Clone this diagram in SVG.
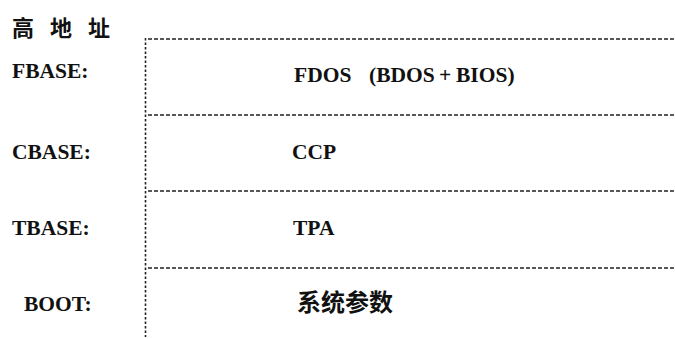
<svg xmlns="http://www.w3.org/2000/svg" width="675" height="339" viewBox="0 0 675 339">
<style>
  .lbl { font-family: "Liberation Serif", "Noto Sans CJK SC", serif; font-weight: bold; font-size: 21.5px; fill: #111; }
  .cjk { font-family: "Noto Sans CJK SC", sans-serif; font-weight: bold; fill: #111; }
  .hline { stroke: #222; stroke-width: 1.4; stroke-dasharray: 4 2; fill: none; }
  .vline { stroke: #222; stroke-width: 1.6; stroke-dasharray: 2.5 2; fill: none; }
</style>
<rect width="675" height="339" fill="#fff"/>
<g id="axis-labels">
  <text class="cjk" font-size="22" x="12 34 50 72 88" y="36">高 地 址</text>
  <text class="lbl" x="12" y="78">FBASE:</text>
  <text class="lbl" x="12" y="159">CBASE:</text>
  <text class="lbl" x="12" y="235">TBASE:</text>
  <text class="lbl" x="24" y="311">BOOT:</text>
</g>
<g id="connectors">
  <line class="vline" x1="145.5" y1="38" x2="145.5" y2="337"/>
  <line class="hline" x1="148" y1="39" x2="675" y2="39"/>
  <line class="hline" x1="148" y1="115" x2="675" y2="115"/>
  <line class="hline" x1="148" y1="191" x2="675" y2="191"/>
  <line class="hline" x1="148" y1="268" x2="675" y2="268"/>
</g>
<g id="node-fdos">
  <text class="lbl" y="82"><tspan x="294">FDOS</tspan><tspan x="369">(BDOS</tspan><tspan x="439">+</tspan><tspan x="456">BIOS)</tspan></text>
</g>
<g id="node-ccp">
  <text class="lbl" x="292" y="159">CCP</text>
</g>
<g id="node-tpa">
  <text class="lbl" x="293" y="235">TPA</text>
</g>
<g id="node-params">
  <text class="cjk" font-size="24" x="297" y="311">系统参数</text>
</g>
</svg>
